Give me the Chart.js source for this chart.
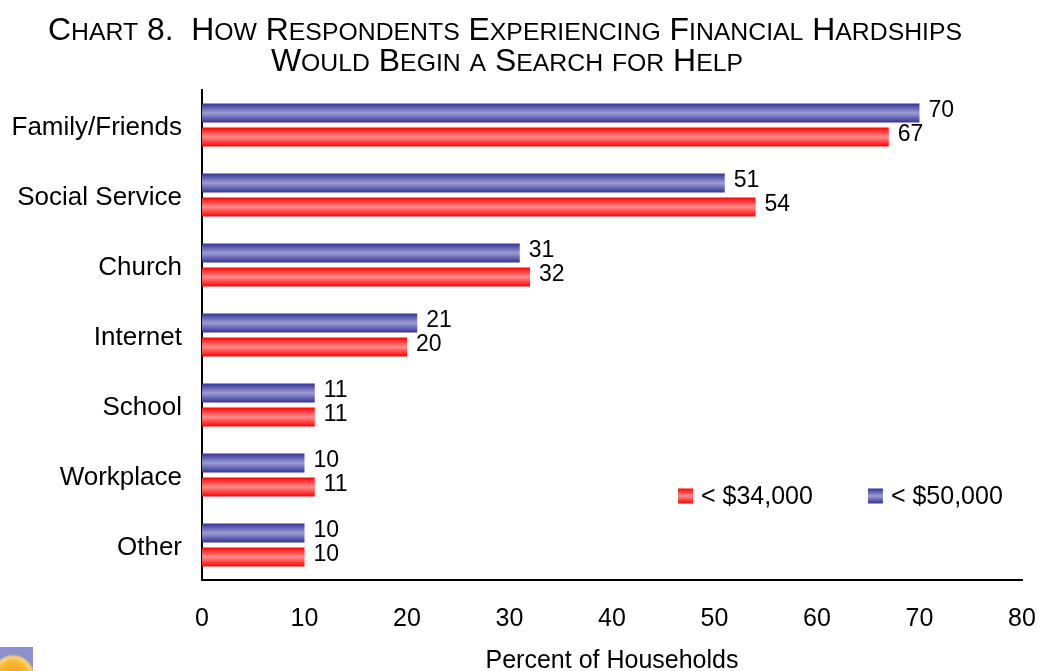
<!DOCTYPE html>
<html>
<head>
<meta charset="utf-8">
<script src="https://cdn.jsdelivr.net/npm/chart.js@4.4.1/dist/chart.umd.min.js"></script>
<style>
  html, body { margin: 0; padding: 0; background: #ffffff; }
  canvas { display: block; }
</style>
</head>
<body>
<canvas id="chart" width="1042" height="671"></canvas>
<script>
// Where respondents would begin a search for help (percent of households)
const categories = ['Family/Friends', 'Social Service', 'Church', 'Internet', 'School', 'Workplace', 'Other'];
const seriesNames = ['< $50,000', '< $34,000'];
const under50k = [70, 51, 31, 21, 11, 10, 10];
const under34k = [67, 54, 32, 20, 11, 11, 10];
const xMin = 0, xMax = 80, xStep = 10;
const titleLines = [
  'Chart 8.  How Respondents Experiencing Financial Hardships',
  'Would Begin a Search for Help'
];
const axisTitle = 'Percent of Households';

const FONT = "'Liberation Sans', Arial, sans-serif";
const CAT_PCT = 0.686;
const BAR_PCT = 0.79;

// Edge / centre colours for the cylinder-like shading of the bars
const shades = [
  { edge: '#333399', mid: '#9d9dd3' },   // < $50,000
  { edge: '#ff0000', mid: '#ff8c8c' }    // < $34,000
];

function shadeGradient(ctx2d, top, bottom, s) {
  const g = ctx2d.createLinearGradient(0, top, 0, bottom);
  g.addColorStop(0, s.edge);
  g.addColorStop(0.5, s.mid);
  g.addColorStop(1, s.edge);
  return g;
}

// Bar fill: compute the bar's vertical extent from the category scale
function barFill(context) {
  const chart = context.chart;
  const s = shades[context.datasetIndex];
  const y = chart.scales.y;
  if (!y || context.dataIndex === undefined || !chart.chartArea) return s.edge;
  const center = y.getPixelForValue(context.dataIndex);
  const band = (chart.chartArea.bottom - chart.chartArea.top) / categories.length;
  const slot = band * CAT_PCT / 2;
  const h = slot * BAR_PCT;
  const c = center + (context.datasetIndex - 0.5) * slot;
  return shadeGradient(chart.ctx, c - h / 2, c + h / 2, s);
}

// Title in small capitals: capitals stay large, lower-case letters become small capitals
function drawSmallCaps(ctx, text, cx, baseline, big, small) {
  const runs = [];
  for (const ch of text) {
    const lower = ch !== ch.toUpperCase();
    const size = lower ? small : big;
    const t = lower ? ch.toUpperCase() : ch;
    const last = runs[runs.length - 1];
    if (last && last.size === size) last.t += t; else runs.push({ t, size });
  }
  let total = 0;
  runs.forEach(r => { ctx.font = r.size + 'px ' + FONT; r.w = ctx.measureText(r.t).width; total += r.w; });
  let x = cx - total / 2;
  ctx.textAlign = 'left';
  ctx.textBaseline = 'alphabetic';
  runs.forEach(r => { ctx.font = r.size + 'px ' + FONT; ctx.fillText(r.t, x, baseline); x += r.w; });
}

const titlePlugin = {
  id: 'smallCapsTitle',
  afterDraw(chart) {
    const ctx = chart.ctx;
    ctx.save();
    ctx.fillStyle = '#000000';
    drawSmallCaps(ctx, titleLines[0], 505, 40, 31.9, 24.8);
    drawSmallCaps(ctx, titleLines[1], 507, 71, 31.9, 24.8);
    ctx.restore();
  }
};

const valueLabelPlugin = {
  id: 'valueLabels',
  afterDatasetsDraw(chart) {
    const ctx = chart.ctx;
    ctx.save();
    ctx.font = '23px ' + FONT;
    ctx.fillStyle = '#000000';
    ctx.textAlign = 'left';
    ctx.textBaseline = 'middle';
    chart.data.datasets.forEach((ds, di) => {
      chart.getDatasetMeta(di).data.forEach((el, i) => {
        ctx.fillText(String(ds.data[i]), el.x + 9, el.y - 2);
      });
    });
    ctx.restore();
  }
};

const legendPlugin = {
  id: 'insideLegend',
  afterDraw(chart) {
    const ctx = chart.ctx;
    const area = chart.chartArea;
    ctx.save();
    ctx.font = '25px ' + FONT;
    ctx.textAlign = 'left';
    ctx.textBaseline = 'middle';
    let x = area.right - 344;
    const cy = area.bottom - 84;
    [1, 0].forEach(di => {
      const box = 15;
      ctx.fillStyle = shadeGradient(ctx, cy - box / 2, cy + box / 2, shades[di]);
      ctx.fillRect(x, cy - box / 2, box, box);
      ctx.fillStyle = '#000000';
      const label = chart.data.datasets[di].label;
      ctx.fillText(label, x + box + 8, cy + 1);
      x += box + 8 + ctx.measureText(label).width + 55;
    });
    ctx.restore();
  }
};

// Small emblem in the lower-left corner
const emblemPlugin = {
  id: 'emblem',
  afterDraw(chart) {
    const ctx = chart.ctx;
    ctx.save();
    ctx.fillStyle = '#8d90cf';
    ctx.fillRect(0, 647, 33, 24);
    const g = ctx.createRadialGradient(13, 676, 2, 13, 676, 22);
    g.addColorStop(0, '#f4a21c');
    g.addColorStop(0.6, '#f7b731');
    g.addColorStop(0.85, '#f9d27a');
    g.addColorStop(1, 'rgba(249,210,122,0)');
    ctx.fillStyle = g;
    ctx.beginPath();
    ctx.arc(13, 676, 22, 0, Math.PI * 2);
    ctx.fill();
    ctx.restore();
  }
};

new Chart(document.getElementById('chart'), {
  type: 'bar',
  data: {
    labels: categories,
    datasets: [
      { label: seriesNames[0], data: under50k, backgroundColor: barFill, borderWidth: 0 },
      { label: seriesNames[1], data: under34k, backgroundColor: barFill, borderWidth: 0 }
    ]
  },
  options: {
    indexAxis: 'y',
    responsive: false,
    animation: false,
    devicePixelRatio: 1,
    categoryPercentage: CAT_PCT,
    barPercentage: BAR_PCT,
    layout: { padding: { top: 90, right: 2, left: 0, bottom: 0 } },
    plugins: {
      legend: { display: false },
      title: { display: false },
      tooltip: { enabled: false }
    },
    scales: {
      y: {
        type: 'category',
        grid: { display: false, drawTicks: false },
        border: { display: true, color: '#000000', width: 2 },
        ticks: { color: '#000000', font: { family: FONT, size: 26 }, padding: 20, labelOffset: 3 },
        afterFit(scale) { scale.width = 202; }
      },
      x: {
        type: 'linear',
        min: xMin,
        max: xMax,
        grid: { display: false, drawTicks: false },
        border: { display: true, color: '#000000', width: 2 },
        ticks: { stepSize: xStep, color: '#000000', font: { family: FONT, size: 25 }, padding: 24 },
        title: {
          display: true,
          text: axisTitle,
          color: '#000000',
          font: { family: FONT, size: 25 },
          padding: { top: 0, bottom: -5 }
        },
        afterFit(scale) {
          scale.height = 91;
          scale.paddingLeft = 0;
          scale.paddingRight = 20;
        }
      }
    }
  },
  plugins: [valueLabelPlugin, legendPlugin, titlePlugin, emblemPlugin]
});
</script>
</body>
</html>
